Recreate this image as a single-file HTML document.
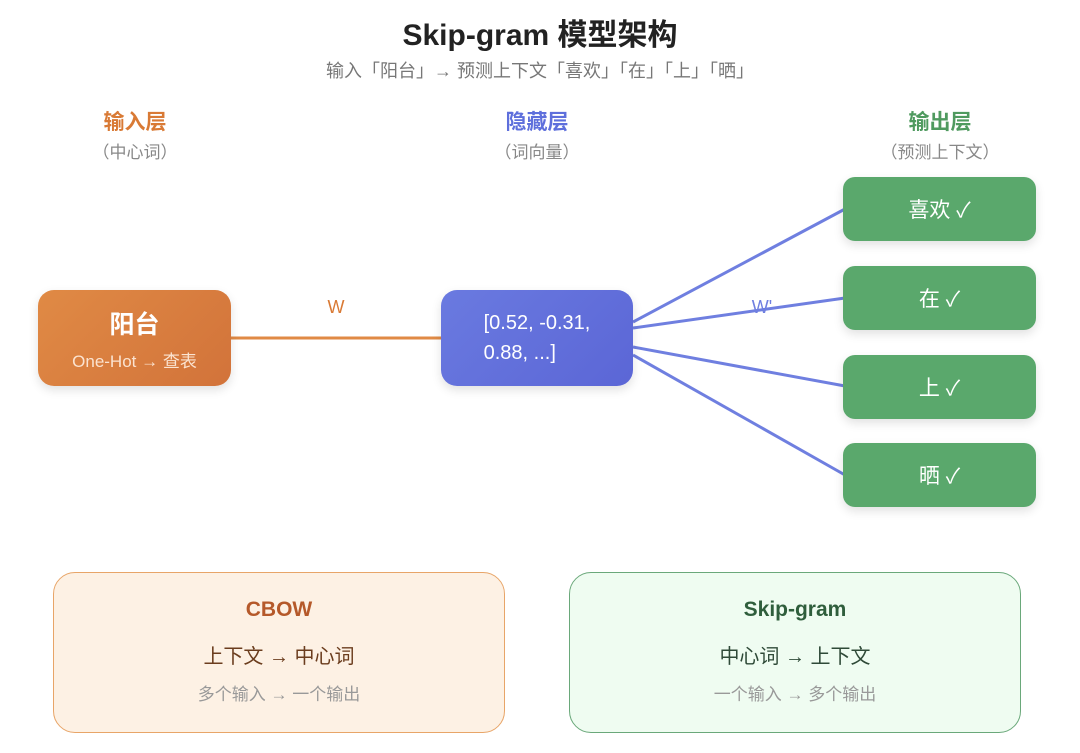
<!DOCTYPE html>
<html><head><meta charset="utf-8"><style>
body{margin:0;width:1080px;height:753px;background:#fff;font-family:"Liberation Sans","Noto Sans CJK SC",sans-serif;position:relative;overflow:hidden}
.a{position:absolute;text-align:center}
.box{position:absolute;border-radius:16px;color:#fff;display:flex;flex-direction:column;align-items:center;justify-content:center;box-shadow:0 4px 10px rgba(0,0,0,.12)}
.out{left:843px;width:193px;height:64px;background:#5aa86c;font-size:21px;border-radius:12px}
</style></head><body>
<div class="a" style="left:0;width:1080px;top:10px;font-size:30px;font-weight:bold;color:#222">Skip-gram 模型架构</div>
<div class="a" style="left:0;width:1080px;top:57px;font-size:18px;color:#777">输入「阳台」→ 预测上下文「喜欢」「在」「上」「晒」</div>
<div class="a" style="left:35px;width:200px;top:106px;font-size:21px;font-weight:bold;color:#d97a35">输入层</div>
<div class="a" style="left:35px;width:200px;top:138px;font-size:17px;color:#888">（中心词）</div>
<div class="a" style="left:437px;width:200px;top:106px;font-size:21px;font-weight:bold;color:#5e6fdc">隐藏层</div>
<div class="a" style="left:437px;width:200px;top:138px;font-size:17px;color:#888">（词向量）</div>
<div class="a" style="left:840px;width:200px;top:106px;font-size:21px;font-weight:bold;color:#4f9a5f">输出层</div>
<div class="a" style="left:840px;width:200px;top:138px;font-size:17px;color:#888">（预测上下文）</div>
<svg width="1080" height="753" style="position:absolute;left:0;top:0">
<line x1="231" y1="338" x2="441" y2="338" stroke="#e08a45" stroke-width="3"/>
<g stroke="#6f7fe0" stroke-width="3">
<line x1="633" y1="322" x2="845" y2="209"/>
<line x1="633" y1="328" x2="845" y2="298"/>
<line x1="633" y1="347" x2="845" y2="386"/>
<line x1="633" y1="355" x2="845" y2="475"/>
</g>
<text x="336" y="313" font-size="18" fill="#d97a35" text-anchor="middle" font-family="Liberation Sans">W</text>
<text x="762" y="313" font-size="18" fill="#6f7fe0" text-anchor="middle" font-family="Liberation Sans">W'</text>
</svg>
<div class="box" style="left:38px;top:290px;width:193px;height:96px;background:linear-gradient(135deg,#e08a45,#d2733a)"><div style="font-size:25px;font-weight:bold">阳台</div><div style="font-size:17px;margin-top:6px;color:#fbe3d0">One-Hot → 查表</div></div>
<div class="box" style="left:441px;top:290px;width:192px;height:96px;background:linear-gradient(135deg,#6a7ae0,#5b66d6);font-size:20px;line-height:30px">[0.52, -0.31,<br>0.88, ...]</div>
<div class="box out" style="top:177px">喜欢 ✓</div>
<div class="box out" style="top:266px">在 ✓</div>
<div class="box out" style="top:355px">上 ✓</div>
<div class="box out" style="top:443px">晒 ✓</div>
<div style="position:absolute;left:53px;top:572px;width:450px;height:159px;border:1.5px solid #e8a568;border-radius:22px;background:#fdf1e4"></div>
<div class="a" style="left:53px;width:452px;top:598px;font-size:21px;font-weight:bold;color:#b5592a">CBOW</div>
<div class="a" style="left:53px;width:452px;top:640px;font-size:20px;color:#6b3d1e">上下文 → 中心词</div>
<div class="a" style="left:53px;width:452px;top:680px;font-size:17px;color:#999">多个输入 → 一个输出</div>
<div style="position:absolute;left:569px;top:572px;width:450px;height:159px;border:1.5px solid #6aa87a;border-radius:22px;background:#effcf1"></div>
<div class="a" style="left:569px;width:452px;top:598px;font-size:21px;font-weight:bold;color:#2f5e3c">Skip-gram</div>
<div class="a" style="left:569px;width:452px;top:640px;font-size:20px;color:#2f4a38">中心词 → 上下文</div>
<div class="a" style="left:569px;width:452px;top:680px;font-size:17px;color:#999">一个输入 → 多个输出</div>
</body></html>
